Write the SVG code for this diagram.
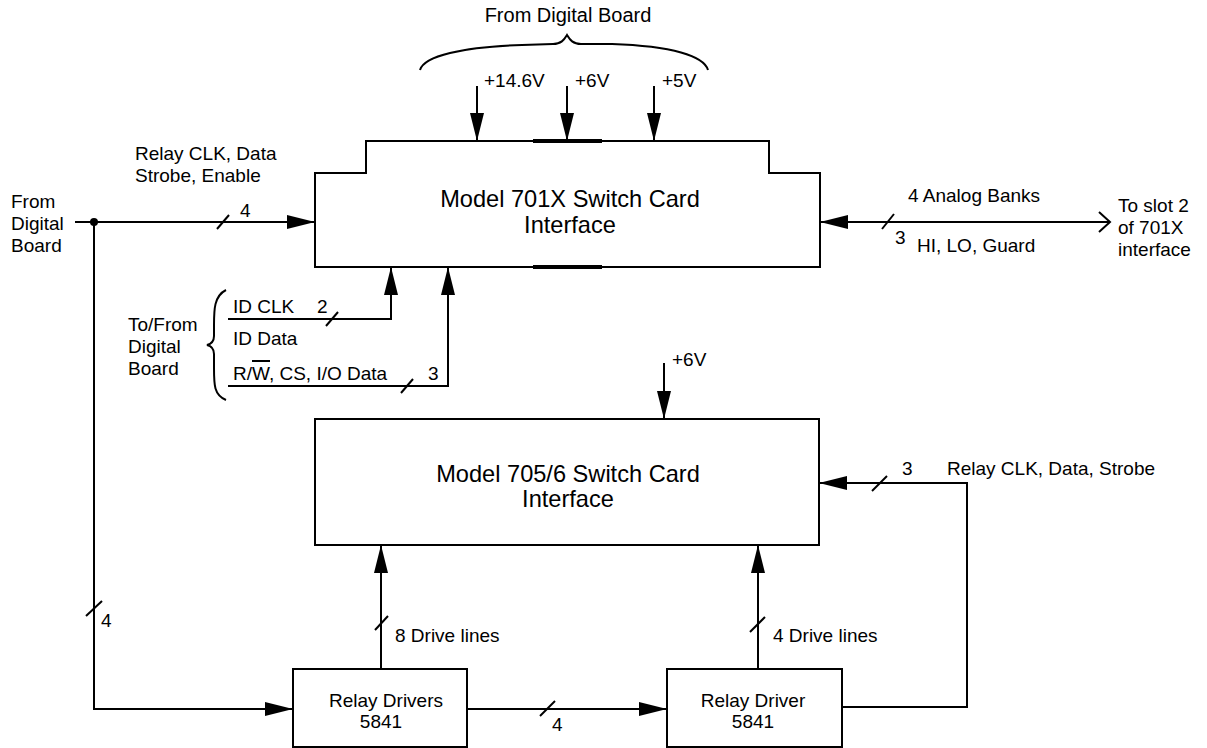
<svg xmlns="http://www.w3.org/2000/svg" width="1207" height="748" viewBox="0 0 1207 748">
<defs>
<marker id="ah" markerUnits="userSpaceOnUse" markerWidth="28" markerHeight="14" refX="28" refY="7" orient="auto">
<path d="M0,0 L28,7 L0,14 z" fill="#000"/>
</marker>
<marker id="oh" markerUnits="userSpaceOnUse" markerWidth="14" markerHeight="22" refX="12" refY="11" orient="auto">
<path d="M1,1 L12,11 L1,21" fill="none" stroke="#000" stroke-width="2"/>
</marker>
<style>
.box{fill:#fff;stroke:#000;stroke-width:2}
.ln{fill:none;stroke:#000;stroke-width:2}
.sl{stroke:#000;stroke-width:2}
.arr{fill:none;stroke:#000;stroke-width:2;marker-end:url(#ah)}
text{font-family:"Liberation Sans",Arial,sans-serif;fill:#000;font-size:19px}
.big{font-size:23.6px;text-anchor:middle}
.mid{text-anchor:middle}
</style>
</defs>

<g id="top-supply">
<path class="ln" d="M420,70 C424,56 462,47 522,45 L553,44 C561,44 564,40 567,35 C570,40 573,44 581,44 L612,44 C672,46 704,56 708,70"/>
<text x="568" y="22" class="mid" style="font-size:20px">From Digital Board</text>
<text x="484" y="87">+14.6V</text>
<text x="575" y="87">+6V</text>
<text x="662" y="87">+5V</text>
</g>

<g id="node-701x">
<path class="box" d="M315,173 L366,173 L366,141 L769,141 L769,173 L820,173 L820,267 L315,267 Z"/>
<line class="ln" x1="533" y1="141" x2="602" y2="141" style="stroke-width:4"/>
<line class="ln" x1="533" y1="267" x2="602" y2="267" style="stroke-width:4"/>
<text x="570" y="207" class="big">Model 701X Switch Card</text>
<text x="570" y="233" class="big">Interface</text>
</g>

<g id="node-7056">
<rect class="box" x="315" y="419" width="504" height="126"/>
<text x="568" y="482" class="big">Model 705/6 Switch Card</text>
<text x="568" y="507" class="big">Interface</text>
</g>

<g id="node-relay-drivers">
<rect class="box" x="293" y="669" width="174" height="78"/>
<text x="386" y="707" class="mid">Relay Drivers</text>
<text x="381" y="728" class="mid">5841</text>
</g>

<g id="node-relay-driver">
<rect class="box" x="667" y="669" width="175" height="78"/>
<text x="753" y="707" class="mid">Relay Driver</text>
<text x="753" y="728" class="mid">5841</text>
</g>

<g id="labels">
<text x="11" y="208">From</text>
<text x="11" y="230">Digital</text>
<text x="11" y="252">Board</text>
<text x="135" y="160">Relay CLK, Data</text>
<text x="135" y="182">Strobe, Enable</text>
<text x="240" y="217">4</text>
<text x="908" y="202">4 Analog Banks</text>
<text x="895" y="244">3</text>
<text x="917" y="252">HI, LO, Guard</text>
<text x="1118" y="212">To slot 2</text>
<text x="1118" y="234">of 701X</text>
<text x="1118" y="256">interface</text>
<path class="ln" d="M226,290 C214,296 214,310 214,325 L214,336 C214,341 211,344 207,345 C211,346 214,349 214,354 L214,368 C214,385 214,395 226,400"/>
<text x="128" y="331">To/From</text>
<text x="128" y="353">Digital</text>
<text x="128" y="375">Board</text>
<text x="233" y="313">ID CLK</text>
<text x="317" y="313">2</text>
<text x="233" y="345">ID Data</text>
<text x="233" y="380">R/W, CS, I/O Data</text>
<line class="sl" x1="252" y1="361" x2="270" y2="361"/>
<text x="428" y="380">3</text>
<text x="672" y="366">+6V</text>
<text x="902" y="475">3</text>
<text x="947" y="475">Relay CLK, Data, Strobe</text>
<text x="101" y="627">4</text>
<text x="395" y="642">8 Drive lines</text>
<text x="773" y="642">4 Drive lines</text>
<text x="552" y="731">4</text>
</g>

<g id="connectors">
<line class="arr" x1="477" y1="86" x2="477" y2="141"/>
<line class="arr" x1="567" y1="86" x2="567" y2="141"/>
<line class="arr" x1="654" y1="86" x2="654" y2="141"/>
<line class="arr" x1="75" y1="222" x2="315" y2="222"/>
<circle cx="94" cy="222" r="4" fill="#000"/>
<line class="sl" x1="217" y1="229" x2="229" y2="215"/>
<polyline class="arr" points="94,222 94,709 293,709"/>
<line class="sl" x1="86" y1="616" x2="102" y2="601"/>
<line class="ln" x1="820" y1="222" x2="1110" y2="222" style="marker-end:url(#oh)"/>
<line class="arr" x1="860" y1="222" x2="820" y2="222"/>
<line class="sl" x1="882" y1="229" x2="894" y2="214"/>
<polyline class="arr" points="228,319 391,319 391,267"/>
<line class="sl" x1="326" y1="326" x2="338" y2="312"/>
<polyline class="arr" points="228,386 448,386 448,267"/>
<line class="sl" x1="401" y1="393" x2="413" y2="379"/>
<line class="arr" x1="664" y1="363" x2="664" y2="419"/>
<polyline class="arr" points="842,707 967,707 967,483 819,483"/>
<line class="sl" x1="872" y1="491" x2="887" y2="476"/>
<line class="arr" x1="381" y1="669" x2="381" y2="545"/>
<line class="sl" x1="375" y1="630" x2="388" y2="616"/>
<line class="arr" x1="758" y1="669" x2="758" y2="545"/>
<line class="sl" x1="750" y1="632" x2="765" y2="617"/>
<line class="arr" x1="467" y1="709" x2="667" y2="709"/>
<line class="sl" x1="540" y1="716" x2="555" y2="701"/>
</g>
</svg>
